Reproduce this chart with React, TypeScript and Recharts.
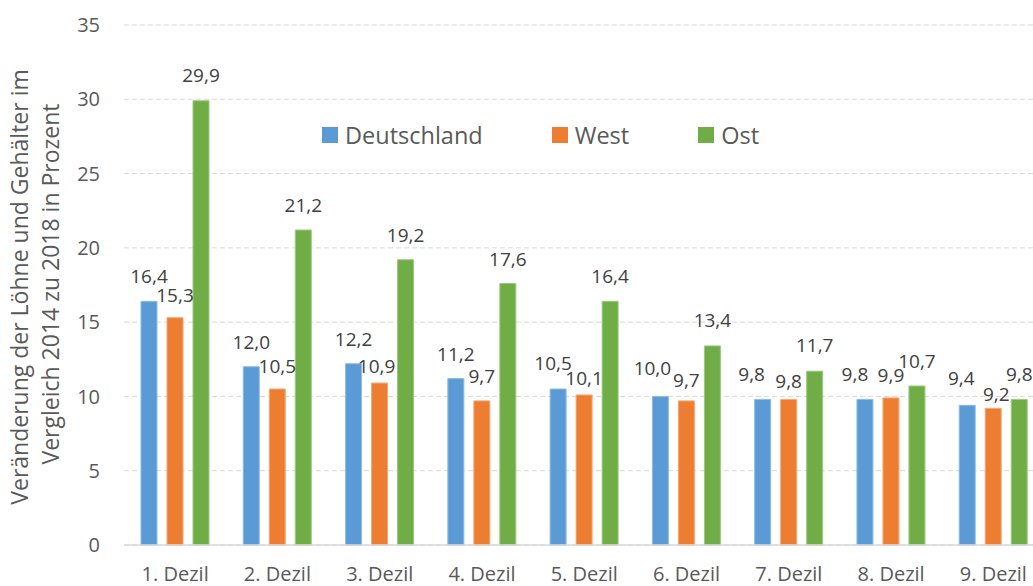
import { BarChart, Bar, XAxis, YAxis, CartesianGrid, Legend, LabelList } from 'recharts'

const categories = ['1. Dezil', '2. Dezil', '3. Dezil', '4. Dezil', '5. Dezil', '6. Dezil', '7. Dezil', '8. Dezil', '9. Dezil']
const deutschland = [16.4, 12.0, 12.2, 11.2, 10.5, 10.0, 9.8, 9.8, 9.4]
const west = [15.3, 10.5, 10.9, 9.7, 10.1, 9.7, 9.8, 9.9, 9.2]
const ost = [29.9, 21.2, 19.2, 17.6, 16.4, 13.4, 11.7, 10.7, 9.8]
const yTicks = [0, 5, 10, 15, 20, 25, 30, 35]

const SERIES = [
  { key: 'deutschland', name: 'Deutschland', color: '#5b9bd5', stroke: '#8cbbe6' },
  { key: 'west', name: 'West', color: '#ed7d31', stroke: '#f4a877' },
  { key: 'ost', name: 'Ost', color: '#70ad47', stroke: '#9cc97f' },
]

// hand-placed data labels in the original: [dx, gap above bar] per decile
const LABEL_NUDGE: Record<string, Array<[number, number]>> = {
  deutschland: [[0, 18], [0, 18], [0, 18], [0, 18], [-5, 19], [-8, 21], [-11, 18], [-10, 18], [-6, 20]],
  west: [[0, 16], [0, 16], [-3, 10], [0, 18], [0, 10], [0, 14], [0, 11], [0, 16], [3, 7]],
  ost: [[0, 19], [0, 18], [0, 18], [0, 18], [0, 18], [0, 19], [0, 19], [0, 18], [0, 18]],
}

const FONT = '"Open Sans", Lato, sans-serif'

const data = categories.map((label, i) => ({
  label,
  deutschland: deutschland[i],
  west: west[i],
  ost: ost[i],
}))

const fmt = (v: unknown) => Number(v).toFixed(1).replace('.', ',')

function makeLabel(seriesKey: string) {
  return (props: any) => {
    const vb = props.viewBox ?? props
    const x = Number(vb.x ?? props.x)
    const y = Number(vb.y ?? props.y)
    const w = Number(vb.width ?? props.width)
    const [dx, gap] = LABEL_NUDGE[seriesKey][props.index ?? 0] ?? [0, 18]
    return (
      <text x={x + w / 2 + dx} y={y - gap} textAnchor="middle" fill="#404040" fontSize={19} fontFamily={FONT}>
        {fmt(props.value)}
      </text>
    )
  }
}

function LegendContent() {
  return (
    <div style={{ display: 'flex', alignItems: 'center', gap: 69, fontFamily: FONT, fontSize: 23.5, color: '#595959' }}>
      {SERIES.map((s) => (
        <div key={s.key} style={{ display: 'flex', alignItems: 'center', gap: 7 }}>
          <span style={{ display: 'inline-block', width: 16, height: 16, background: s.color }} />
          <span>{s.name}</span>
        </div>
      ))}
    </div>
  )
}

function AxisTitle() {
  return (
    <g fill="#595959" fontFamily={FONT} fontSize={23} textAnchor="middle">
      <text x={28} y={287} transform="rotate(-90, 28, 287)">
        Veränderung der Löhne und Gehälter im
      </text>
      <text x={59} y={284} transform="rotate(-90, 59, 284)">
        Vergleich 2014 zu 2018 in Prozent
      </text>
    </g>
  )
}

export default function App() {
  return (
    <div style={{ position: 'absolute', left: 0, top: 0, width: 1033, height: 586, overflow: 'hidden', background: '#fff' }}>
      <BarChart
        width={1050}
        height={586}
        data={data}
        margin={{ top: 25, right: 5.5, left: 0, bottom: 0 }}
        barSize={16}
        barGap={10}
      >
        <CartesianGrid vertical={false} stroke="#d9d9d9" strokeDasharray="5 3" />
        <XAxis
          dataKey="label"
          height={41}
          tickSize={0}
          tickMargin={22}
          axisLine={{ stroke: '#d9d9d9', strokeWidth: 1.5 }}
          tick={{ fill: '#595959', fontSize: 20, fontFamily: FONT }}
          interval={0}
        />
        <YAxis
          width={124}
          domain={[0, 35]}
          ticks={yTicks}
          tickSize={0}
          tickMargin={24}
          axisLine={false}
          tickLine={false}
          tick={{ fill: '#595959', fontSize: 20, fontFamily: FONT }}
          label={{ content: () => <AxisTitle /> }}
        />
        <Legend
          layout="horizontal"
          verticalAlign="middle"
          align="center"
          wrapperStyle={{ left: 322, top: 119, width: 'auto' }}
          content={() => <LegendContent />}
        />
        {SERIES.map((s) => (
          <Bar key={s.key} dataKey={s.key} name={s.name} fill={s.color} stroke={s.stroke} strokeWidth={1} isAnimationActive={false}>
            <LabelList dataKey={s.key} content={makeLabel(s.key)} />
          </Bar>
        ))}
      </BarChart>
    </div>
  )
}
